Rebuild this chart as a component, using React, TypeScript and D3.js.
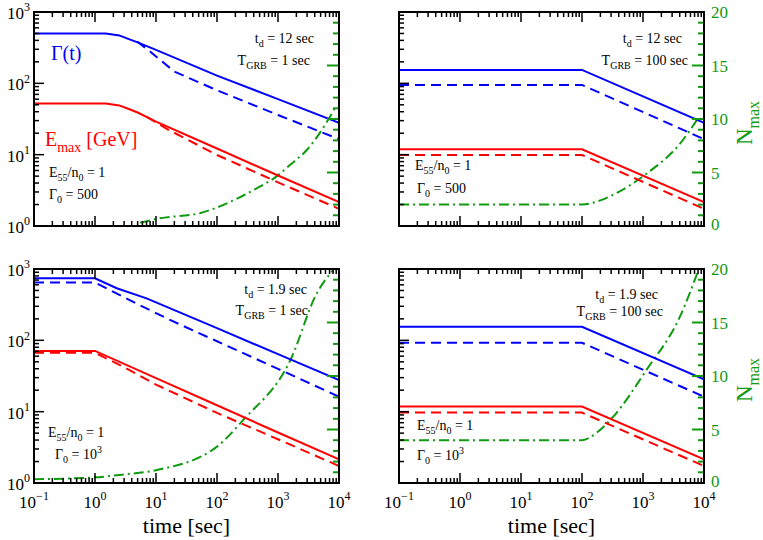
import * as d3 from "d3";
import { useEffect, useRef } from "react";

type Pt = [number, number];
type Seg = [string, "n" | "sub" | "sup"];

// time [sec] vs value
// top-left: t_d = 12 s, T_GRB = 1 s, Gamma0 = 500
const tlGamma: Pt[] = [[0.1, 500], [1.5, 500], [2.5, 470], [3.5, 420], [5, 375], [10, 295], [100, 128], [1000, 60], [10000, 28]];
const tlGammaDash: Pt[] = [[4.9, 385], [8, 279], [20, 146], [100, 80], [1000, 36], [10000, 16.5]];
const tlEmax: Pt[] = [[0.1, 52], [1.5, 52], [2.5, 49], [3.5, 44], [5, 39], [10, 29], [100, 12.2], [1000, 5.1], [10000, 2.16]];
const tlEmaxDash: Pt[] = [[7, 34], [15, 23], [100, 9.9], [1000, 4.1], [10000, 1.74]];
const tlNmax: Pt[] = [[5.5, 0.3], [11.6, 0.72], [52, 1.2], [240, 2.7], [510, 3.7], [830, 4.4], [1570, 5.7], [2960, 7.1], [6600, 9.9], [8500, 11]];

// top-right: t_d = 12 s, T_GRB = 100 s, Gamma0 = 500
const trGamma: Pt[] = [[0.1, 154], [100, 154], [10000, 28]];
const trGammaDash: Pt[] = [[0.1, 95], [100, 95], [10000, 16.5]];
const trEmax: Pt[] = [[0.1, 11.9], [100, 11.9], [10000, 2.16]];
const trEmaxDash: Pt[] = [[0.1, 9.9], [100, 9.9], [10000, 1.74]];
const trNmax: Pt[] = [[0.1, 2], [100, 2], [200, 2.4], [320, 2.9], [1150, 4.9], [4050, 7.7], [8280, 10.2]];

// bottom-left: t_d = 1.9 s, T_GRB = 1 s, Gamma0 = 10^3
const blGamma: Pt[] = [[0.1, 740], [1, 740], [2.27, 537], [7, 388], [100, 148], [1000, 64], [10000, 27.7]];
const blGammaDash: Pt[] = [[0.1, 645], [1, 645], [5, 322], [17, 193], [100, 97], [1000, 39.8], [10000, 16.2]];
const blEmax: Pt[] = [[0.1, 71], [1, 71], [10, 29.6], [100, 12.3], [1000, 5.1], [10000, 2.14]];
const blEmaxDash: Pt[] = [[0.1, 67], [1, 67], [3, 42], [10, 24], [100, 9.6], [1000, 4.1], [10000, 1.73]];
const blNmax: Pt[] = [[0.1, 0.35], [1, 0.53], [3, 0.8], [10, 1.2], [100, 3.4], [270, 5.9], [1600, 11.5], [4300, 17.7], [8000, 19.9]];

// bottom-right: t_d = 1.9 s, T_GRB = 100 s, Gamma0 = 10^3
const brGamma: Pt[] = [[0.1, 155], [100, 155], [10000, 28.4]];
const brGammaDash: Pt[] = [[0.1, 92.5], [100, 92.5], [10000, 16.2]];
const brEmax: Pt[] = [[0.1, 11.8], [100, 11.8], [10000, 2.14]];
const brEmaxDash: Pt[] = [[0.1, 9.7], [100, 9.7], [10000, 1.73]];
const brNmax: Pt[] = [[0.1, 4], [100, 4], [174, 4.7], [325, 6.2], [1150, 10.6], [4000, 15.5], [8000, 19.8]];

const xDecades = [-1, 0, 1, 2, 3, 4];
const yDecades = [0, 1, 2, 3];
const nTicks = d3.range(0, 21);
const nLabels = [0, 5, 10, 15, 20];

const FONT = "'Liberation Serif', 'Times New Roman', 'DejaVu Serif', 'Noto Serif', Tinos, Times, serif";
const BLUE = "#0000ff";
const RED = "#ff0000";
const GREEN = "#109a10";

const panels = [
  {
    box: [34, 12, 339, 226], xLabels: false, yLabels: true, nLabels: false,
    gamma: tlGamma, gammaDash: tlGammaDash, emax: tlEmax, emaxDash: tlEmaxDash, nmax: tlNmax,
    td: { x: 314, y: 43, t: "= 12 sec" }, tg: { x: 310, y: 65, t: "= 1 sec" },
    e55: { x: 49, y: 177 }, g0: { x: 49, y: 199, big: false },
  },
  {
    box: [399, 12, 704, 226], xLabels: false, yLabels: false, nLabels: true,
    gamma: trGamma, gammaDash: trGammaDash, emax: trEmax, emaxDash: trEmaxDash, nmax: trNmax,
    td: { x: 682, y: 43, t: "= 12 sec" }, tg: { x: 688, y: 65, t: "= 100 sec" },
    e55: { x: 415, y: 170 }, g0: { x: 417, y: 193, big: false },
  },
  {
    box: [34, 269, 339, 483], xLabels: true, yLabels: true, nLabels: false,
    gamma: blGamma, gammaDash: blGammaDash, emax: blEmax, emaxDash: blEmaxDash, nmax: blNmax,
    td: { x: 307, y: 294, t: "= 1.9 sec" }, tg: { x: 308, y: 315, t: "= 1 sec" },
    e55: { x: 48, y: 437 }, g0: { x: 55, y: 459, big: true },
  },
  {
    box: [399, 269, 704, 483], xLabels: true, yLabels: false, nLabels: true,
    gamma: brGamma, gammaDash: brGammaDash, emax: brEmax, emaxDash: brEmaxDash, nmax: brNmax,
    td: { x: 658, y: 299, t: "= 1.9 sec" }, tg: { x: 663, y: 316, t: "= 100 sec" },
    e55: { x: 417, y: 430 }, g0: { x: 417, y: 460, big: true },
  },
];

function rich(sel: any, segs: Seg[], size: number, small: number) {
  let off = 0;
  segs.forEach(([s, k]) => {
    const target = k === "sub" ? size * 0.32 : k === "sup" ? -size * 0.45 : 0;
    sel.append("tspan")
      .attr("dy", target - off)
      .attr("font-size", k === "n" ? size : small)
      .text(s);
    off = target;
  });
}

export default function App() {
  const ref = useRef<SVGSVGElement | null>(null);

  useEffect(() => {
    if (!ref.current) return;
    const svg = d3.select(ref.current);
    svg.selectAll("*").remove();

    panels.forEach((p, i) => {
      const [x0, y0, x1, y1] = p.box;
      const x = d3.scaleLog().domain([0.1, 1e4]).range([x0, x1]);
      const y = d3.scaleLog().domain([1, 1000]).range([y1, y0]);
      const n = d3.scaleLinear().domain([0, 20]).range([y1, y0]);
      const g = svg.append("g");

      const clipId = `clip${i}`;
      g.append("clipPath").attr("id", clipId)
        .append("rect").attr("x", x0).attr("y", y0).attr("width", x1 - x0).attr("height", y1 - y0);

      const curves = g.append("g").attr("clip-path", `url(#${clipId})`);
      const lineY = d3.line<Pt>().x((d) => x(d[0])).y((d) => y(d[1]));
      const lineN = d3.line<Pt>().x((d) => x(d[0])).y((d) => n(d[1])).curve(d3.curveMonotoneX);

      const series: [Pt[], string, string, any][] = [
        [p.nmax, GREEN, "10,4,2,4", lineN],
        [p.gamma, BLUE, "", lineY],
        [p.gammaDash, BLUE, "10,6", lineY],
        [p.emax, RED, "", lineY],
        [p.emaxDash, RED, "10,6", lineY],
      ];
      series.forEach(([data, color, dash, gen]) => {
        curves.append("path")
          .attr("d", gen(data))
          .attr("fill", "none")
          .attr("stroke", color)
          .attr("stroke-width", 2)
          .attr("stroke-dasharray", dash || null);
      });

      // x ticks (top and bottom, inside)
      const tk = g.append("g").attr("stroke", "#000").attr("stroke-width", 1.5);
      xDecades.forEach((k) => {
        const mults = k < 4 ? d3.range(1, 10) : [1];
        mults.forEach((m) => {
          const v = m * Math.pow(10, k);
          const len = m === 1 ? 10 : 5;
          const px = x(v);
          tk.append("line").attr("x1", px).attr("x2", px).attr("y1", y1).attr("y2", y1 - len);
          tk.append("line").attr("x1", px).attr("x2", px).attr("y1", y0).attr("y2", y0 + len);
        });
      });
      // left log y ticks
      yDecades.forEach((k) => {
        const mults = k < 3 ? d3.range(1, 10) : [1];
        mults.forEach((m) => {
          const v = m * Math.pow(10, k);
          const len = m === 1 ? 10 : 5;
          const py = y(v);
          tk.append("line").attr("x1", x0).attr("x2", x0 + len).attr("y1", py).attr("y2", py);
        });
      });
      // right linear N ticks, green
      const gk = g.append("g").attr("stroke", GREEN).attr("stroke-width", 2);
      nTicks.forEach((v) => {
        const len = v % 5 === 0 ? 12 : 6;
        gk.append("line").attr("x1", x1).attr("x2", x1 - len).attr("y1", n(v)).attr("y2", n(v));
      });

      g.append("rect")
        .attr("x", x0).attr("y", y0).attr("width", x1 - x0).attr("height", y1 - y0)
        .attr("fill", "none").attr("stroke", "#000").attr("stroke-width", 2);

      const txt = (tx: number, ty: number, anchor: string, color = "#000") =>
        g.append("text")
          .attr("x", tx).attr("y", ty)
          .attr("text-anchor", anchor)
          .attr("fill", color)
          .style("font-family", FONT)
          .attr("xml:space", "preserve");

      if (p.yLabels) {
        yDecades.forEach((k) => {
          rich(txt(x0 - 4, y(Math.pow(10, k)) + 7, "end"), [["10", "n"], [`${k}`, "sup"]], 17, 12);
        });
      }
      if (p.xLabels) {
        xDecades.forEach((k) => {
          rich(txt(x(Math.pow(10, k)), y1 + 25, "middle"), [["10", "n"], [k < 0 ? `\u2212${-k}` : `${k}`, "sup"]], 17, 12);
        });
        txt((x0 + x1) / 2, 533, "middle").attr("font-size", 22).text("time [sec]");
      }
      if (p.nLabels) {
        nLabels.forEach((v) => {
          txt(x1 + 7, n(v) + (v === 0 ? 4 : 6), "start", GREEN).attr("font-size", 17).text(`${v}`);
        });
        const nt = txt(0, 0, "middle", GREEN)
          .attr("transform", `translate(752,${(y0 + y1) / 2 + 4}) rotate(-90)`);
        rich(nt, [["N", "n"], ["max", "sub"]], 23, 16);
      }

      rich(txt(p.td.x, p.td.y, "end"), [["t", "n"], ["d", "sub"], [` ${p.td.t}`, "n"]], 14, 10);
      rich(txt(p.tg.x, p.tg.y, "end"), [["T", "n"], ["GRB", "sub"], [` ${p.tg.t}`, "n"]], 14, 10);
      rich(txt(p.e55.x, p.e55.y, "start"), [["E", "n"], ["55", "sub"], ["/n", "n"], ["0", "sub"], [" = 1", "n"]], 14, 10);
      rich(
        txt(p.g0.x, p.g0.y, "start"),
        p.g0.big ? [["\u0393", "n"], ["0", "sub"], [" = 10", "n"], ["3", "sup"]] : [["\u0393", "n"], ["0", "sub"], [" = 500", "n"]],
        14, 10,
      );

      if (i === 0) {
        txt(51, 60, "start", BLUE).attr("font-size", 20).text("\u0393(t)");
        rich(txt(45, 146, "start", RED), [["E", "n"], ["max", "sub"], [" [GeV]", "n"]], 20, 14);
      }
    });
  }, []);

  return (
    <svg
      ref={ref}
      width={763}
      height={540}
      style={{ position: "absolute", left: 0, top: 0, background: "#fff" }}
    ></svg>
  );
}
